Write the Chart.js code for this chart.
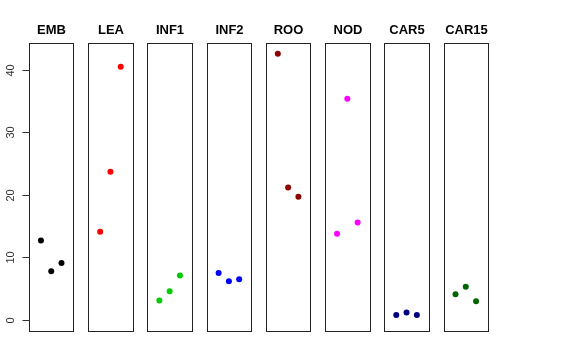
<!DOCTYPE html>
<html>
<head>
<meta charset="utf-8">
<script src="https://cdn.jsdelivr.net/npm/chart.js@4/dist/chart.umd.min.js"></script>
<style>
  html, body { margin: 0; padding: 0; background: #fff; }
  #wrap { width: 576px; height: 360px; }
</style>
</head>
<body>
<div id="wrap"><canvas id="panels" width="576" height="360"></canvas></div>
<script>
// Panel names and colours
const groups = ["EMB", "LEA", "INF1", "INF2", "ROO", "NOD", "CAR5", "CAR15"];
const groupColors = ["#000000", "#FF0000", "#00CD00", "#0000FF", "#8B0000", "#FF00FF", "#000080", "#006400"];

// Three replicate values per panel
const embValues = [12.7, 7.8, 9.1];
const leaValues = [14.1, 23.7, 40.5];
const inf1Values = [3.1, 4.6, 7.1];
const inf2Values = [7.5, 6.2, 6.5];
const rooValues = [42.6, 21.2, 19.7];
const nodValues = [13.8, 35.4, 15.6];
const car5Values = [0.8, 1.2, 0.8];
const car15Values = [4.1, 5.3, 3.0];

const yTicks = [0, 10, 20, 30, 40];

const allValues = [embValues, leaValues, inf1Values, inf2Values, rooValues, nodValues, car5Values, car15Values];

// each panel spans 0..4 (plus R's 4% padding), panels are laid side by side
const panelStep = 5.757;
const panelLo = -0.16;
const panelHi = 4.16;

const datasets = groups.map((name, i) => ({
    label: name,
    data: allValues[i].map((v, j) => ({ x: i * panelStep + j + 1, y: v })),
    backgroundColor: groupColors[i],
    borderColor: groupColors[i],
    pointRadius: 3,
    pointHoverRadius: 3,
    borderWidth: 0,
    showLine: false,
}));

// boxes, titles and the shared y axis
const panelDecor = {
    id: "panelDecor",
    afterDatasetsDraw(chart) {
        const { ctx, scales: { x, y } } = chart;
        const top = y.getPixelForValue(y.max);
        const bottom = y.getPixelForValue(y.min);
        ctx.save();
        ctx.strokeStyle = "#222";
        ctx.lineWidth = 1;
        groups.forEach((name, i) => {
            const l = Math.round(x.getPixelForValue(i * panelStep + panelLo)) + 0.5;
            const r = Math.round(x.getPixelForValue(i * panelStep + panelHi)) + 0.5;
            ctx.strokeRect(l, Math.round(top) + 0.5, r - l, Math.round(bottom - top));
            ctx.fillStyle = "#000";
            ctx.font = "bold 13px 'Liberation Sans', Arial, sans-serif";
            ctx.textAlign = "center";
            ctx.textBaseline = "middle";
            ctx.fillText(name, (l + r) / 2, 30);
        });

        // y ticks on the first panel
        const axisX = Math.round(x.getPixelForValue(panelLo)) + 0.5;
        ctx.strokeStyle = "#333";
        ctx.fillStyle = "#333";
        ctx.font = "11px 'Liberation Sans', Arial, sans-serif";
        yTicks.forEach((t) => {
            const py = Math.round(y.getPixelForValue(t)) + 0.5;
            ctx.beginPath();
            ctx.moveTo(axisX - 7, py);
            ctx.lineTo(axisX, py);
            ctx.stroke();
            ctx.save();
            ctx.translate(axisX - 19, py);
            ctx.rotate(-Math.PI / 2);
            ctx.textAlign = "center";
            ctx.textBaseline = "middle";
            ctx.fillText(String(t), 0, 0);
            ctx.restore();
        });
        ctx.restore();
    },
};

new Chart(document.getElementById("panels"), {
    type: "scatter",
    data: { datasets },
    options: {
        responsive: false,
        animation: false,
        layout: { padding: { left: 29, right: 88, top: 43, bottom: 29 } },
        plugins: { legend: { display: false }, tooltip: { enabled: false } },
        scales: {
            x: { type: "linear", display: false, min: panelLo, max: 7 * panelStep + panelHi },
            y: { type: "linear", display: false, min: -1.76, max: 44.3 },
        },
    },
    plugins: [panelDecor],
});
</script>
</body>
</html>
